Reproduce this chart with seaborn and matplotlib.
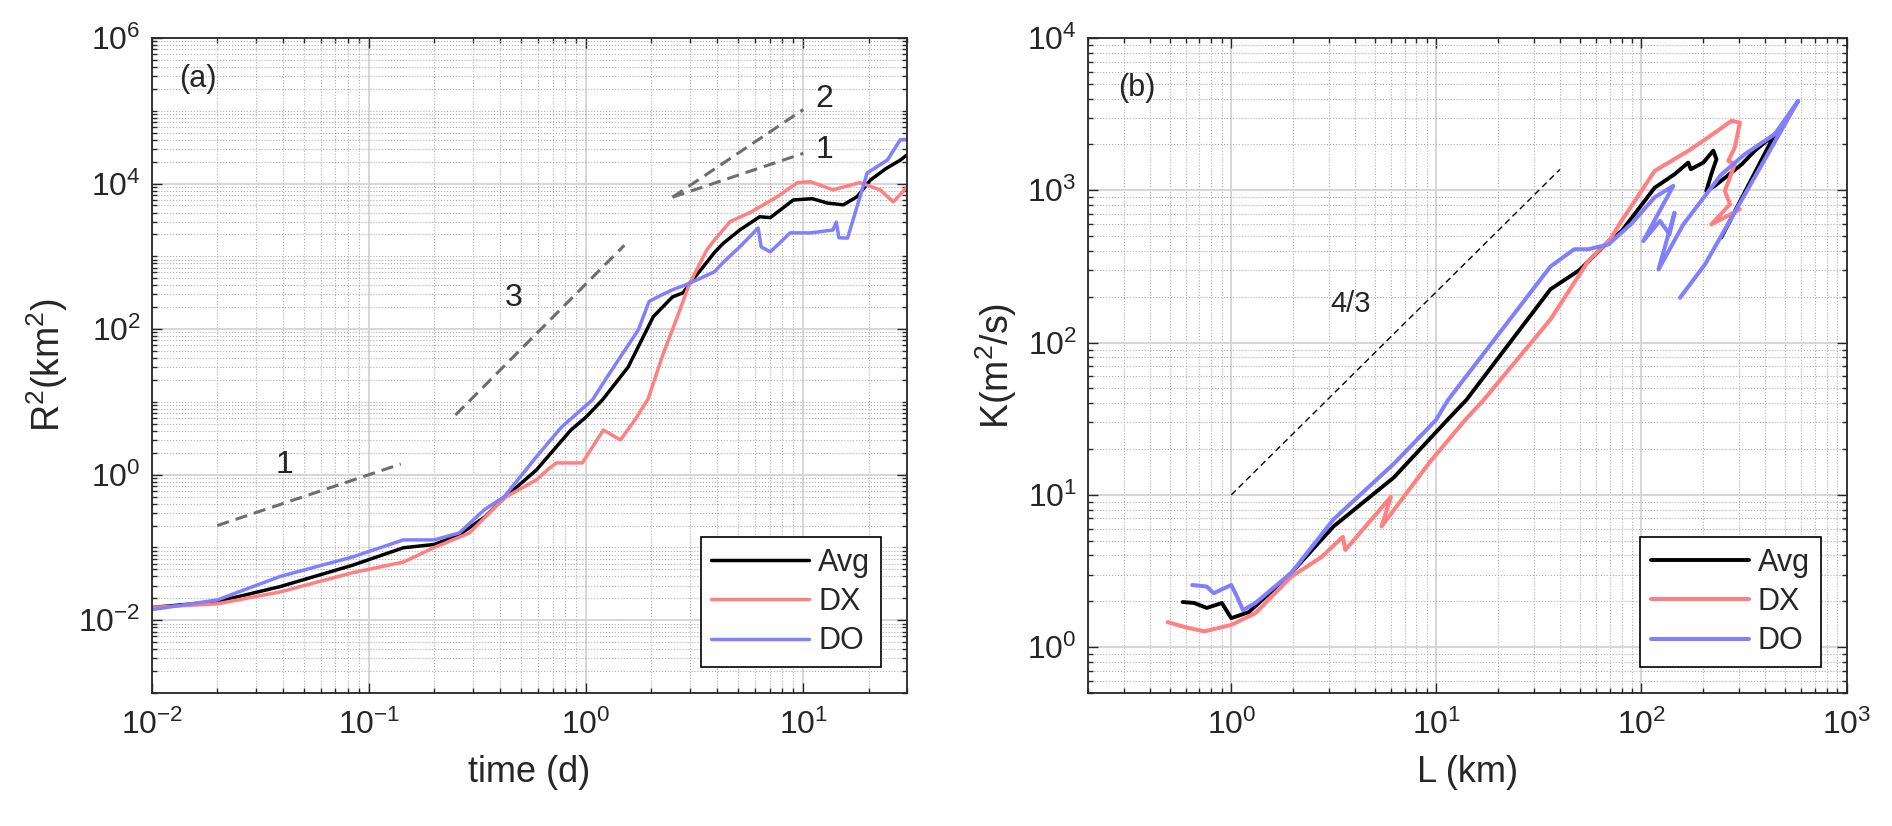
import numpy as np
import seaborn as sns
import matplotlib.pyplot as plt
from matplotlib.ticker import FixedLocator, LogLocator, LogFormatterSciNotation, NullFormatter

# ---- panel (a): R^2 (km^2) vs time (d) ----
t_avg = [0.01, 0.02, 0.039, 0.084, 0.144, 0.2, 0.26, 0.34, 0.42, 0.59, 0.85, 1.0, 1.19, 1.56,
         2.04, 2.5, 2.8, 3.0, 3.46, 3.9, 4.27, 5.1, 6.3, 7.05, 9.0, 11.0, 12.9, 15.3, 17.7,
         20.4, 24.0, 28.0, 30.0]
r2_avg = [0.015, 0.018, 0.029, 0.057, 0.099, 0.11, 0.149, 0.26, 0.48, 1.16, 4.1, 6.2, 10.7, 30,
          149, 277, 316, 427, 716, 1130, 1500, 2300, 3500, 3400, 5950, 6200, 5400, 5100, 6600,
          11200, 16000, 21000, 24700]

t_dx = [0.01, 0.02, 0.039, 0.084, 0.144, 0.2, 0.29, 0.42, 0.59, 0.68, 0.73, 0.96, 1.2, 1.44,
        1.68, 1.93, 2.26, 2.6, 3.0, 3.6, 3.9, 4.27, 4.6, 5.7, 7.6, 9.4, 10.8, 13.7, 18.2, 22.6,
        26.0, 30.0]
r2_dx = [0.015, 0.0168, 0.0245, 0.045, 0.063, 0.10, 0.158, 0.48, 0.85, 1.24, 1.45, 1.45, 4.1, 3.0,
         5.7, 11, 45, 135, 427, 1230, 1680, 2300, 3000, 4000, 6600, 10300, 10600, 8200, 10300, 8200,
         5600, 8900]

t_do = [0.01, 0.02, 0.039, 0.084, 0.144, 0.2, 0.26, 0.34, 0.42, 0.59, 0.77, 1.07, 1.25, 1.74,
        1.95, 2.2, 2.5, 3.0, 3.9, 4.27, 5.1, 6.2, 6.4, 7.05, 8.7, 10.8, 13.7, 14.2, 14.6, 16.0,
        19.7, 24.4, 28.0, 30.0]
r2_do = [0.014, 0.019, 0.040, 0.074, 0.127, 0.127, 0.158, 0.33, 0.5, 1.76, 4.5, 10.7, 22, 98,
         240, 290, 347, 427, 614, 820, 1350, 2450, 1350, 1150, 2100, 2100, 2300, 2950, 1800, 1780,
         14000, 21000, 40000, 40500]

# guide lines (end points) and their slope labels
g1_t, g1_y = [0.02, 0.14], [0.2, 1.4]
g3_t, g3_y = [0.25, 1.5], [6.6, 1420]
g2_t, g2_y = [2.5, 10], [6500, 104000]
g1b_t, g1b_y = [2.5, 10], [6500, 26000]
slope_labels_a = [("1", 0.041, 1.36), ("3", 0.466, 270), ("2", 12.5, 1.45e5), ("1", 12.5, 2.9e4)]

# ---- panel (b): K (m^2/s) vs L (km) ----
l_avg = [0.58, 0.66, 0.76, 0.9, 1.0, 1.22, 1.96, 3.15, 6.2, 11.3, 14, 36, 50, 70, 80, 100, 116,
         145, 169, 174, 200, 224, 232, 219, 207, 228, 308, 357, 447, 245]
k_avg = [1.98, 1.95, 1.81, 1.95, 1.55, 1.7, 3.07, 6.2, 13, 31, 42, 224, 300, 470, 540, 800, 1040,
         1275, 1520, 1375, 1520, 1820, 1600, 1275, 990, 1070, 1480, 1820, 2340, 490]

l_dx = [0.49, 0.6, 0.74, 1.0, 1.31, 1.96, 2.75, 3.5, 3.6, 6.0, 5.4, 9.25, 13.8, 17, 36, 55, 70.6,
        80, 116, 169, 211, 275, 302, 285, 265, 285, 255, 270, 219, 302]
k_dx = [1.46, 1.35, 1.27, 1.4, 1.67, 2.9, 3.9, 5.3, 4.35, 9.7, 6.2, 16.3, 31, 42, 142, 343, 480,
        630, 1340, 1815, 2220, 2860, 2780, 1910, 1560, 1480, 990, 810, 597, 750]

l_do = [0.645, 0.76, 0.82, 1.0, 1.07, 1.14, 1.31, 1.96, 3.15, 6.2, 9.95, 11.4, 36, 47, 55, 69, 89,
        116, 143, 102, 123, 137, 145, 121, 160, 245, 319, 446, 581, 204, 154]
k_do = [2.56, 2.5, 2.26, 2.56, 2.13, 1.75, 1.95, 3.07, 6.9, 16, 31, 42, 316, 410, 410, 441, 600,
        900, 1070, 464, 630, 515, 713, 302, 597, 1270, 1725, 2335, 3870, 326, 197]

g43_l, g43_k = [1, 40], [10, 1370]

C_AVG, C_DX, C_DO = "black", "#ff8080", "#8080ff"

sns.set_theme(style="ticks")
plt.rcParams['font.family'] = ['Liberation Sans', 'DejaVu Sans']
plt.rcParams.update({
    'mathtext.fontset': 'custom',
    'mathtext.rm': 'Liberation Sans',
    'mathtext.it': 'Liberation Sans:italic',
    'mathtext.default': 'regular',
    'axes.unicode_minus': False,
})

fig = plt.figure(figsize=(18.92, 8.26), dpi=100)
axa = fig.add_axes([0.0803, 0.161, 0.399, 0.793])
axb = fig.add_axes([0.575, 0.161, 0.401, 0.793])


def style_log(ax, xlim, ylim, xticks, yticks):
    ax.set_xscale('log')
    ax.set_yscale('log')
    ax.set_xlim(xlim)
    ax.set_ylim(ylim)
    ax.xaxis.set_major_locator(FixedLocator(xticks))
    ax.yaxis.set_major_locator(FixedLocator(yticks))
    for axis in (ax.xaxis, ax.yaxis):
        axis.set_minor_locator(LogLocator(base=10, subs=np.arange(1, 10), numticks=200))
        axis.set_major_formatter(LogFormatterSciNotation())
        axis.set_minor_formatter(NullFormatter())
    ax.grid(True, which='major', color='#d6d6d6', lw=1.4, ls='-')
    ax.grid(True, which='minor', color='#b0b0b0', lw=0.8, ls=':')
    ax.set_axisbelow(True)
    ax.tick_params(which='both', direction='in', top=True, right=True,
                   labelsize=23, width=1.0, color='#262626')
    ax.tick_params(which='major', length=7)
    ax.tick_params(which='minor', length=3.5)
    ax.tick_params(axis='x', pad=12)
    ax.tick_params(axis='y', pad=8)
    for sp in ax.spines.values():
        sp.set_color('#262626')
        sp.set_linewidth(1.3)


def draw(ax, x, y, color, lw, label=None, ls='-'):
    sns.lineplot(x=x, y=y, ax=ax, color=color, lw=lw, ls=ls, label=label,
                 sort=False, estimator=None)


# panel (a)
style_log(axa, (1e-2, 30), (1e-3, 1e6), [1e-2, 1e-1, 1, 10], [1e-2, 1, 1e2, 1e4, 1e6])
for gt, gy in [(g1_t, g1_y), (g3_t, g3_y), (g2_t, g2_y), (g1b_t, g1b_y)]:
    draw(axa, gt, gy, '#6e6e6e', 2.2, ls=(0, (4, 2.3)))
draw(axa, t_avg, r2_avg, C_AVG, 2.5, 'Avg')
draw(axa, t_dx, r2_dx, C_DX, 2.5, 'DX')
draw(axa, t_do, r2_do, C_DO, 2.5, 'DO')
for txt, xx, yy in slope_labels_a:
    axa.text(xx, yy, txt, fontsize=23, ha='center', va='center')
axa.text(0.036, 0.937, '(a)', transform=axa.transAxes, fontsize=22, ha='left', va='center')
axa.set_xlabel('time (d)', fontsize=26, labelpad=10)
axa.set_ylabel('R$^2$(km$^2$)', fontsize=27, labelpad=6)

# panel (b)
style_log(axb, (0.2, 1e3), (0.5, 1e4), [1, 10, 1e2, 1e3], [1, 10, 1e2, 1e3, 1e4])
draw(axb, g43_l, g43_k, 'black', 1.0, ls=(0, (4.5, 3)))
draw(axb, l_avg, k_avg, C_AVG, 2.8, 'Avg')
draw(axb, l_dx, k_dx, C_DX, 2.9, 'DX')
draw(axb, l_do, k_do, C_DO, 2.9, 'DO')
axb.text(3.8, 178, '4/3', fontsize=21, ha='center', va='center')
axb.text(0.04, 0.924, '(b)', transform=axb.transAxes, fontsize=22, ha='left', va='center')
axb.set_xlabel('L (km)', fontsize=26, labelpad=10)
axb.set_ylabel('K(m$^2$/s)', fontsize=27, labelpad=6)

for ax in (axa, axb):
    leg = ax.legend(loc='lower right', fontsize=22, handlelength=3.2, handletextpad=0.3,
                    labelspacing=0.3, borderpad=0.35, borderaxespad=0.85, frameon=True,
                    fancybox=False, framealpha=1, edgecolor='black')
    leg.get_frame().set_linewidth(1.2)

fig.savefig('out.png', dpi=100)
